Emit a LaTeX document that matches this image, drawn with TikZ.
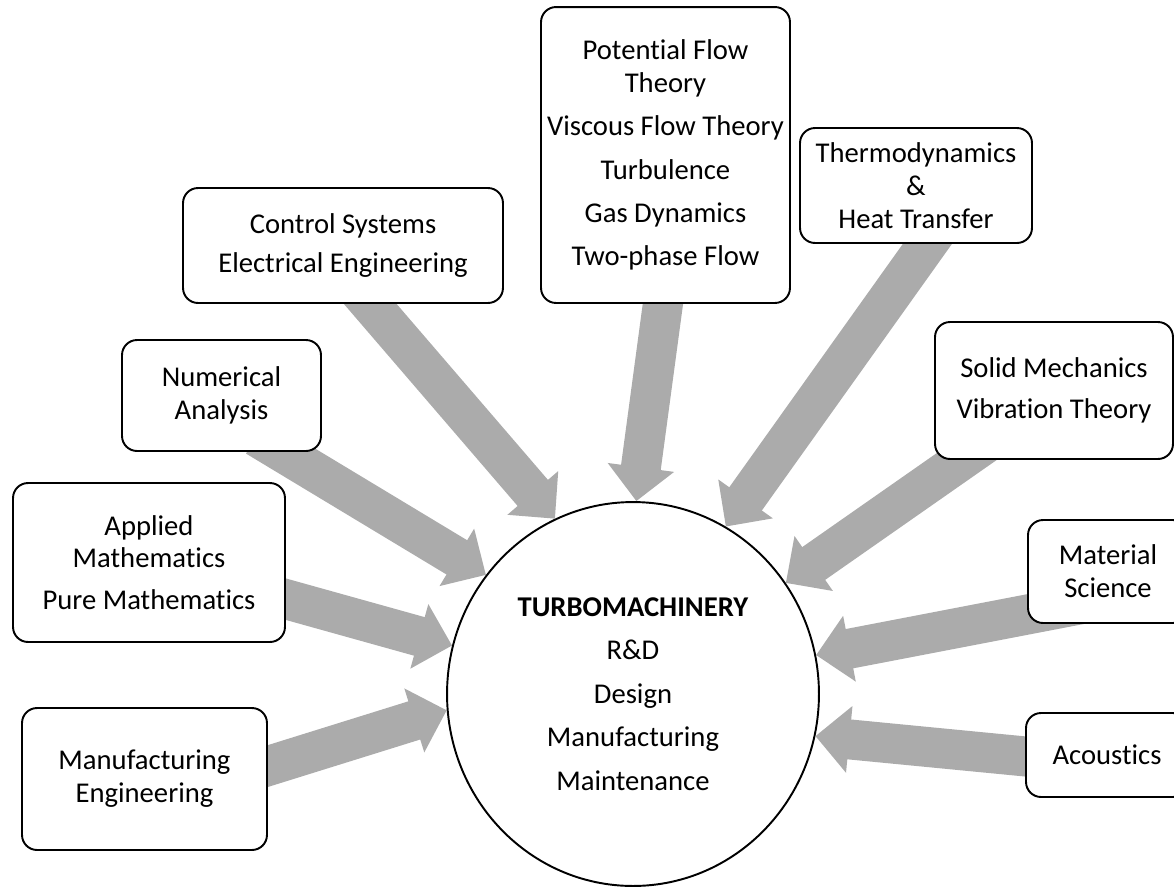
\documentclass[tikz,border=0pt]{standalone}
\usepackage{fontspec}
\setmainfont{Carlito}[Ligatures=NoCommon]
\usepackage{tikz}
\usetikzlibrary{arrows.meta,shapes.geometric,backgrounds}

\definecolor{feedgray}{RGB}{171,171,171}
\newcommand{\topicfont}{\fontsize{16.3}{18.7}\selectfont}

\begin{document}
\begin{tikzpicture}[x=0.02cm,y=-0.02cm,
  topic/.style={draw,line width=1.1pt,rounded corners=0.3cm,fill=white,
    align=center,inner sep=0pt,font=\topicfont},
  hub node/.style={ellipse,draw,line width=1.1pt,inner sep=0pt,
    minimum width=7.44cm,minimum height=7.68cm,align=center,font=\topicfont},
  feed/.style={line width=0.8cm,draw=feedgray,
    -{Triangle[width=1.3cm,length=0.68cm]},shorten <=-0.6cm}]

  \clip (0,0) rectangle (1174,887);

  % the central subject
  \node[hub node] (hub) at (633,694)
    {\textbf{TURBOMACHINERY}\\[6pt] R\&D\\[6pt] Design\\[6pt] Manufacturing\\[6pt] Maintenance};

  % the feeding disciplines
  \node[topic,minimum width=6.4cm,minimum height=2.3cm] (ctrl) at (343,245.5)
    {Control Systems\\[4pt] Electrical Engineering};
  \node[topic,minimum width=4.98cm,minimum height=5.92cm] (flow) at (665.5,155)
    {Potential Flow\\ Theory\\[6pt] Viscous Flow Theory\\[6pt] Turbulence\\[6pt]
     Gas Dynamics\\[6pt] Two-phase Flow};
  \node[topic,minimum width=4.64cm,minimum height=2.3cm] (thermo) at (916,185.5)
    {Thermodynamics\\ \&\\ Heat Transfer};
  \node[topic,minimum width=3.98cm,minimum height=2.22cm] (numer) at (221.5,395.5)
    {Numerical\\ Analysis};
  \node[topic,minimum width=4.76cm,minimum height=2.74cm] (solid) at (1054,390.5)
    {Solid Mechanics\\[5pt] Vibration Theory};
  \node[topic,minimum width=5.44cm,minimum height=3.18cm] (maths) at (149,562.5)
    {Applied\\ Mathematics\\[5pt] Pure Mathematics};
  \node[topic,minimum width=3.2cm,minimum height=2.06cm] (matsci) at (1108,571.5)
    {Material\\ Science};
  \node[topic,minimum width=4.9cm,minimum height=2.84cm] (manuf) at (144.5,779)
    {Manufacturing\\ Engineering};
  \node[topic,minimum width=3.24cm,minimum height=1.68cm] (acoust) at (1107,755)
    {Acoustics};

  % block arrows, kept behind the boxes
  \begin{scope}[on background layer]
    \draw[feed] (ctrl.-65.7) -- (hub.114.8);
    \draw[feed] (flow.-91) -- (hub.89.4);
    \draw[feed] (thermo.-79.2) -- (hub.61);
    \draw[feed] (numer.-43.5) -- (hub.141.3);
    \draw[feed] (solid.-143.9) -- (hub.36);
    \draw[feed] (maths.-15.4) -- (hub.165);
    \draw[feed,shorten <=-4cm] (matsci.-152) -- (hub.12.2);
    \draw[feed] (manuf.6.75) -- (hub.185.7);
    \draw[feed] (acoust.181.4) -- (hub.-13.3);
  \end{scope}
\end{tikzpicture}
\end{document}
